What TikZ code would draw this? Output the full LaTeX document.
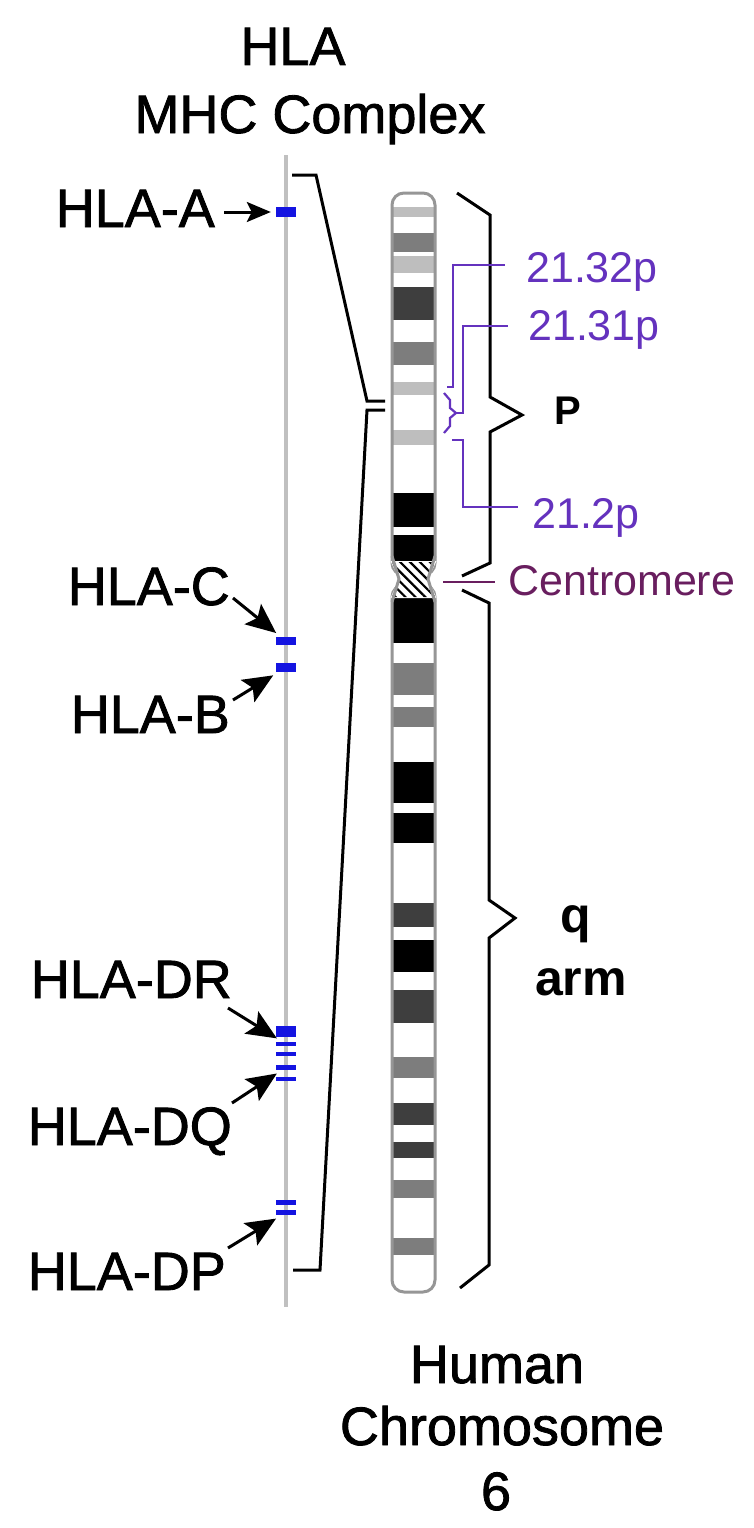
\documentclass[tikz,border=0pt]{standalone}
\usepackage{fontspec}
\setmainfont{Liberation Sans}
\newfontfamily\lblfont[FakeBold=1.5]{Liberation Sans}
\usetikzlibrary{arrows.meta,patterns.meta}
\definecolor{markblue}{RGB}{20,20,225}
\definecolor{stemgray}{RGB}{192,192,192}
\definecolor{purp}{RGB}{100,50,190}
\definecolor{cenpurp}{RGB}{105,30,95}
\definecolor{lgray}{RGB}{190,190,190}
\definecolor{mgray}{RGB}{125,125,125}
\definecolor{dgray}{RGB}{62,62,62}
\definecolor{outlinegray}{RGB}{150,150,150}
\begin{document}
\begin{tikzpicture}[x=1pt,y=-1pt,
  lbl/.style={font=\lblfont\fontsize{54}{60}\selectfont, inner sep=0pt},
  blbl/.style={font=\bfseries\fontsize{50}{56}\selectfont, inner sep=0pt},
  plbl/.style={font=\fontsize{43}{48}\selectfont, text=purp, inner sep=0pt},
  marker/.style={fill=markblue, draw=none, minimum width=20pt, inner sep=0pt},
  genearrow/.style={line width=3pt, -{Stealth[length=30pt,width=26pt,inset=6pt]}, shorten >=6pt},
  smallarrow/.style={line width=3pt, -{Stealth[length=24pt,width=20pt,inset=5pt]}, shorten >=5pt},
  brk/.style={line width=3pt, line join=miter},
  pline/.style={purp, line width=2.2pt},
]
\useasboundingbox (0,0) rectangle (754,1528);
\fill[white] (0,0) rectangle (754,1528);

% titles
\node[lbl, anchor=base] (t1) at (293,65) {HLA};
\node[lbl, anchor=base] (t2) at (310,133) {MHC Complex};
\node[lbl, anchor=base] (b1) at (497,1383) {Human};
\node[lbl, anchor=base] (b2) at (502,1445) {Chromosome};
\node[lbl, anchor=base] (b3) at (496,1510) {6};

% gene stem
\draw[stemgray, line width=4pt] (286,155) -- (286,1307);

% markers
\node[marker, minimum height=10pt] (mA) at (286,212) {};
\node[marker, minimum height=8pt] (mC) at (286,641) {};
\node[marker, minimum height=9pt] (mB) at (286,667.5) {};
\node[marker, minimum height=11pt] (mDR1) at (286,1031.5) {};
\node[marker, minimum height=4.5pt] (mDR2) at (286,1044) {};
\node[marker, minimum height=4.5pt] (mDR3) at (286,1054) {};
\node[marker, minimum height=5pt] (mDQ1) at (286,1067.5) {};
\node[marker, minimum height=4.5pt] (mDQ2) at (286,1079) {};
\node[marker, minimum height=5.5pt] (mDP1) at (286,1202.5) {};
\node[marker, minimum height=5.5pt] (mDP2) at (286,1212.5) {};

% gene labels
\node[lbl, anchor=base east] (lA) at (215,227) {HLA-A};
\node[lbl, anchor=base east] (lC) at (230,605) {HLA-C};
\node[lbl, anchor=base east] (lB) at (230,733) {HLA-B};
\node[lbl, anchor=base east] (lDR) at (232,998) {HLA-DR};
\node[lbl, anchor=base east] (lDQ) at (232,1145) {HLA-DQ};
\node[lbl, anchor=base east] (lDP) at (226,1290) {HLA-DP};

% arrow start points
\coordinate (sA) at (224,212);
\coordinate (sC) at (233,598);
\coordinate (sB) at (233,700);
\coordinate (sDR) at (228,1008);
\coordinate (sDQ) at (232,1103);
\coordinate (sDP) at (228,1248);
\draw[smallarrow] (sA) -- (mA);
\draw[genearrow] (sC) -- (mC);
\draw[genearrow] (sB) -- (mB);
\draw[genearrow] (sDR) -- (mDR2);
\draw[genearrow] (sDQ) -- (mDQ1);
\draw[genearrow] (sDP) -- (mDP2);

% MHC bracket
\draw[brk] (292,175) -- (316,175) -- (367,401) -- (385,401);
\draw[brk] (385,410) -- (367,410) -- (320,1270) -- (293,1270);

% chromosome p arm
\begin{scope}
\clip[rounded corners=12pt] (392,193) rectangle (435,575);
\fill[white] (380,180) rectangle (450,580);
\fill[lgray] (385,207) rectangle (445,217);
\fill[mgray] (385,233) rectangle (445,252);
\fill[lgray] (385,256) rectangle (445,273);
\fill[dgray] (385,287) rectangle (445,320);
\fill[mgray] (385,342) rectangle (445,365);
\fill[lgray] (385,382) rectangle (445,395);
\fill[lgray] (385,430) rectangle (445,445);
\fill[black] (385,493) rectangle (445,527);
\fill[black] (385,535) rectangle (445,562);
\end{scope}
\draw[outlinegray, line width=3pt, rounded corners=12pt] (392,193) rectangle (435,575);

% chromosome q arm
\begin{scope}
\clip[rounded corners=12pt] (392,585) rectangle (435,1292);
\fill[white] (380,580) rectangle (450,1300);
\fill[black] (385,598) rectangle (445,643);
\fill[mgray] (385,663) rectangle (445,695);
\fill[mgray] (385,707) rectangle (445,727);
\fill[black] (385,762) rectangle (445,803);
\fill[black] (385,813) rectangle (445,843);
\fill[dgray] (385,903) rectangle (445,927);
\fill[black] (385,940) rectangle (445,972);
\fill[dgray] (385,990) rectangle (445,1023);
\fill[mgray] (385,1057) rectangle (445,1078);
\fill[dgray] (385,1103) rectangle (445,1125);
\fill[dgray] (385,1142) rectangle (445,1158);
\fill[mgray] (385,1180) rectangle (445,1198);
\fill[mgray] (385,1238) rectangle (445,1255);
\end{scope}
\draw[outlinegray, line width=3pt, rounded corners=12pt] (392,585) rectangle (435,1292);

% centromere
\fill[white] (390.5,561) -- (436.5,561) -- (428,579) -- (436.5,598) -- (390.5,598) -- (399,579) -- cycle;
\fill[pattern={Lines[angle=-45,distance=7pt,line width=2.2pt]}, pattern color=black]
  (392,562) -- (435,562) -- (428,579) -- (435,597) -- (392,597) -- (399,579) -- cycle;
\draw[outlinegray, line width=3pt] (392,556) -- (399,579) -- (392,602);
\draw[outlinegray, line width=3pt] (435,556) -- (428,579) -- (435,602);

% p and q braces
\draw[brk] (457,193) -- (490,215) -- (490,397) -- (522,415) -- (490,432) -- (490,563) -- (462,576);
\draw[brk] (462,590) -- (489,603) -- (489,900) -- (515,918) -- (489,938) -- (489,1265) -- (460,1288);

% arm labels
\node[font=\bfseries\fontsize{40}{44}\selectfont, anchor=base west, inner sep=0pt] (lP) at (554,424) {P};
\node[blbl, anchor=base] (lq) at (576,932) {q};
\node[blbl, anchor=base] (larm) at (581,995) {arm};

% band labels
\node[plbl, anchor=base west] (l2132) at (526,282) {21.32p};
\node[plbl, anchor=base west] (l2131) at (528,340) {21.31p};
\node[plbl, anchor=base west] (l212) at (532,528) {21.2p};
\node[plbl, text=cenpurp, anchor=base west] (lcen) at (508,595) {Centromere};

\coordinate (e2132) at (505,265);
\coordinate (e2131) at (508,326);
\coordinate (e212) at (518,507);
\coordinate (ecen) at (495,582);
\draw[pline] (447,387) -- (453,387) -- (453,265) -- (e2132);
\draw[pline] (444,393) -- (450,400) -- (450,408) -- (456,413) -- (450,418) -- (450,426) -- (444,433);
\draw[pline] (456,413) -- (463,413) -- (463,326) -- (e2131);
\draw[pline] (452,440) -- (463,440) -- (463,507) -- (e212);
\draw[cenpurp, line width=2.2pt] (443,582) -- (ecen);
\end{tikzpicture}
\end{document}
